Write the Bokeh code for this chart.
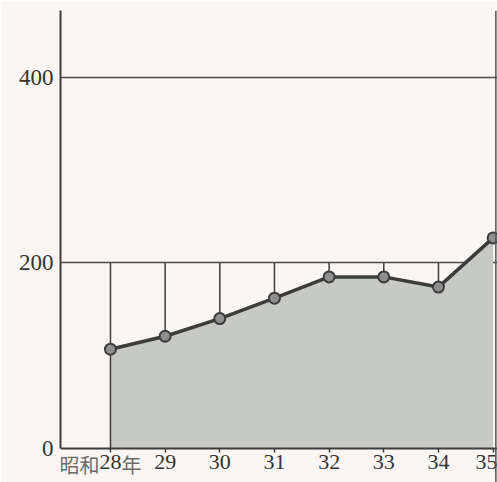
from bokeh.plotting import figure
from bokeh.models import FixedTicker, Range1d, Span
from bokeh.core.properties import value
from bokeh.embed import file_html
from bokeh.resources import INLINE

# data
years = [28, 29, 30, 31, 32, 33, 34, 35]
values = [107, 121, 140, 162, 185, 185, 174, 227]
year_labels = ["28", "29", "30", "31", "32", "33", "34", "35"]
first_prefix = "昭和"
first_suffix = "年"
y_ticks = [0, 200, 400]
grid_levels = [200, 400]
ref_level = 200

BG = "#faf6f4"
INK = "#3c3c3c"
FONT = "Liberation Serif, Noto Sans CJK JP"

X_START, X_END = 27.086, 35.08
Y_START, Y_END = -36.7, 472.2
p = figure(width=497, height=482, output_backend="svg", toolbar_location=None,
           x_range=Range1d(X_START, X_END), y_range=Range1d(Y_START, Y_END),
           min_border_left=60, min_border_right=0, min_border_top=10, min_border_bottom=0,
           background_fill_color=BG, border_fill_color=BG, outline_line_color=None)

# grid
p.xgrid.visible = False
p.ygrid.ticker = FixedTicker(ticks=grid_levels)
p.ygrid.grid_line_color = "#4a4a4a"
p.ygrid.grid_line_width = 1.5

# y axis
p.yaxis.ticker = FixedTicker(ticks=y_ticks)
p.yaxis.bounds = (0, Y_END)
p.yaxis.major_tick_out = 0
p.yaxis.major_tick_in = 0
p.yaxis.minor_tick_line_color = None
p.yaxis.axis_line_color = INK
p.yaxis.axis_line_width = 2
p.yaxis.major_label_text_font = FONT
p.yaxis.major_label_text_font_size = "23px"
p.yaxis.major_label_text_color = "#333333"
p.yaxis.major_label_standoff = 7

# x axis placed at the zero line
p.xaxis.fixed_location = 0
p.xaxis.ticker = FixedTicker(ticks=years)
p.xaxis.major_label_overrides = {y: l for y, l in zip(years, year_labels)}
p.xaxis.major_tick_out = 4
p.xaxis.major_tick_in = 0
p.xaxis.major_tick_line_color = INK
p.xaxis.major_tick_line_width = 1.5
p.xaxis.minor_tick_line_color = None
p.xaxis.axis_line_color = INK
p.xaxis.axis_line_width = 2
p.xaxis.major_label_text_font = FONT
p.xaxis.major_label_text_font_size = "22px"
p.xaxis.major_label_text_color = "#333333"
p.xaxis.major_label_standoff = 3

# filled area
p.varea(x=years, y1=[0] * len(years), y2=values, fill_color="#c7c9c5")

# vertical drop lines from the 200 level down to the data
xs = [y for y, v in zip(years, values) if v < ref_level]
vs = [v for y, v in zip(years, values) if v < ref_level]
p.segment(x0=xs, y0=[ref_level] * len(xs), x1=xs, y1=vs, line_color=INK, line_width=1.5)
p.segment(x0=[years[0]], y0=[0], x1=[years[0]], y1=[values[0]], line_color=INK, line_width=1.5)

# right edge line
p.add_layout(Span(location=X_END - 0.03, dimension="height", line_color="#555555", line_width=1.5))

# data line and markers
p.line(years, values, line_color=INK, line_width=3.5)
p.scatter(years, values, size=11, marker="circle", fill_color="#8f8f8f",
          line_color=INK, line_width=2)

# prefix/suffix on the first year label
p.text(x=[years[0]], y=[0], text=[first_prefix], text_font=value(FONT), text_font_size="20px",
       text_color="#6a6a6a", text_align="right", text_baseline="top",
       x_offset=-11, y_offset=7)
p.text(x=[years[0]], y=[0], text=[first_suffix], text_font=value(FONT), text_font_size="20px",
       text_color="#6a6a6a", text_align="left", text_baseline="top",
       x_offset=11, y_offset=7)

open("out.html", "w").write(file_html(p, INLINE))
